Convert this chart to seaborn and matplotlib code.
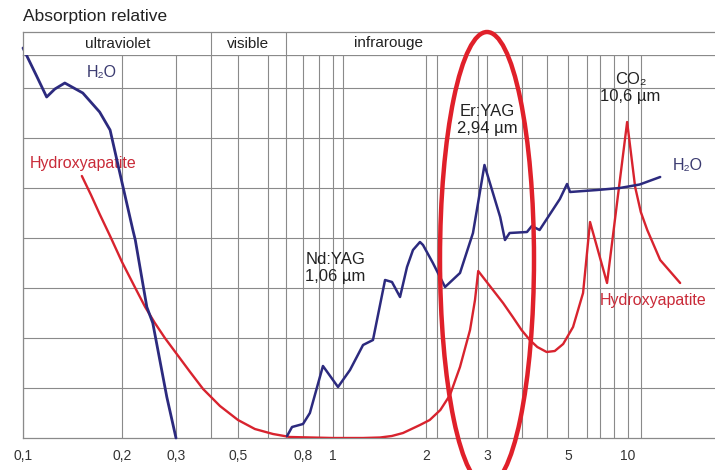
import numpy as np
import pandas as pd
import matplotlib
matplotlib.use("Agg")
import matplotlib.pyplot as plt
from matplotlib.patches import Ellipse
import seaborn as sns

# wavelength (µm) / relative absorption (grid units, 0 = bottom line)
h2o_uv_wl = [0.100, 0.110, 0.118, 0.125, 0.134, 0.152, 0.171, 0.184, 0.197,
             0.217, 0.221, 0.241, 0.252, 0.280, 0.300]
h2o_uv_abs = [7.80, 7.24, 6.82, 6.98, 7.10, 6.90, 6.52, 6.16, 5.30,
              4.16, 3.96, 2.62, 2.30, 0.82, 0.00]

h2o_ir_wl = [0.713, 0.739, 0.800, 0.842, 0.928, 1.038, 1.135, 1.251, 1.347,
             1.474, 1.552, 1.648, 1.736, 1.815, 1.912, 1.956, 2.094, 2.27,
             2.507, 2.733, 2.95, 3.26, 3.36, 3.46, 3.86, 3.98, 4.18, 4.75,
             4.97, 5.12, 7.0, 9.1, 11.0, 13.0]
h2o_ir_abs = [0.04, 0.22, 0.28, 0.50, 1.44, 1.02, 1.36, 1.86, 1.96,
              3.16, 3.12, 2.82, 3.42, 3.76, 3.92, 3.86, 3.50, 3.02,
              3.30, 4.10, 5.46, 4.42, 3.96, 4.10, 4.12, 4.24, 4.16, 4.78,
              5.08, 4.92, 4.96, 5.00, 5.07, 5.22]

hap_wl = [0.151, 0.161, 0.171, 0.184, 0.200, 0.221, 0.238, 0.256, 0.276,
          0.300, 0.337, 0.375, 0.431, 0.500, 0.565, 0.644, 0.728, 1.00,
          1.25, 1.42, 1.55, 1.685, 1.912, 2.05, 2.20, 2.346, 2.507, 2.68,
          2.77, 2.83, 3.115, 3.32, 3.53, 3.73, 3.93, 4.12, 4.37, 4.60, 4.85,
          5.30, 5.95, 6.45, 7.85, 9.9, 10.6, 11.1, 11.7, 13.0, 15.3]
hap_abs = [5.24, 4.86, 4.48, 4.04, 3.52, 3.00, 2.62, 2.30, 2.00,
           1.70, 1.32, 0.98, 0.64, 0.36, 0.18, 0.08, 0.02, 0.00,
           0.00, 0.01, 0.04, 0.10, 0.26, 0.36, 0.56, 0.86, 1.42, 2.16,
           2.76, 3.34, 2.96, 2.70, 2.42, 2.16, 1.96, 1.82, 1.72, 1.74, 1.88,
           2.22, 2.90, 4.32, 3.10, 6.32, 5.02, 4.52, 4.16, 3.56, 3.10]

tick_values = [0.1, 0.2, 0.3, 0.5, 0.8, 1, 2, 3, 5, 10]
tick_labels = ["0,1", "0,2", "0,3", "0,5", "0,8", "1", "2", "3", "5", "10"]
grid_wl = [0.4, 0.62, 0.71, 0.9, 1.08, 2.15, 2.83, 3.73, 4.38, 6.2, 7.2, 8.5, 11.1]
band_names = ["ultraviolet", "visible", "infrarouge"]
band_label_wl = [0.1945, 0.537, 1.507]
band_dividers = [0.4, 0.71]

# the printed axis is only roughly logarithmic: piecewise log scale
scale_log = np.log10([0.01, 0.1, 0.2, 0.3, 0.5, 0.8, 1, 2, 3, 5, 10, 20, 100])
scale_pos = np.array([-306, 23, 122, 176, 238, 303, 333, 426, 487, 568, 628, 713, 910.0])


def fwd(x):
    x = np.clip(np.asarray(x, dtype=float), 1e-4, None)
    return np.interp(np.log10(x), scale_log, scale_pos)


def inv(p):
    return 10 ** np.interp(np.asarray(p, dtype=float), scale_pos, scale_log)


sns.set_style("white")
plt.rcParams["font.family"] = ["Liberation Sans", "DejaVu Sans"]

BLUE = "#2c2a7e"
RED = "#d8232e"
GRID = "#8a8a8a"

fig = plt.figure(figsize=(7.15, 4.70), dpi=100)
left, width = 23 / 715, 692 / 715
ax = fig.add_axes([left, 32 / 470, width, 383 / 470])
head = fig.add_axes([left, 415 / 470, width, 23 / 470], sharex=ax)

ax.set_xscale("function", functions=(fwd, inv))
ax.set_xlim(0.1, float(inv(715)))
ax.set_ylim(0, 7.66)

uv = pd.DataFrame({"wl": h2o_uv_wl, "a": h2o_uv_abs})
ir = pd.DataFrame({"wl": h2o_ir_wl, "a": h2o_ir_abs})
hap = pd.DataFrame({"wl": hap_wl, "a": hap_abs})

sns.lineplot(data=hap, x="wl", y="a", ax=ax, color=RED, lw=1.7, estimator=None, zorder=3)
sns.lineplot(data=uv, x="wl", y="a", ax=ax, color=BLUE, lw=2.0, estimator=None, zorder=4,
             clip_on=False)
sns.lineplot(data=ir, x="wl", y="a", ax=ax, color=BLUE, lw=1.8, estimator=None, zorder=4)

ax.set_xticks(tick_values, tick_labels)
ax.set_xticks(grid_wl, minor=True)
ax.set_yticks(range(1, 8), [""] * 7)
ax.tick_params(which="both", length=0, labelsize=10, colors="#333333", pad=8)
ax.grid(True, which="both", axis="x", color=GRID, lw=0.8)
ax.grid(True, which="major", axis="y", color=GRID, lw=0.8)
ax.set_axisbelow(True)
ax.set_xlabel("")
ax.set_ylabel("")
for side in ["left", "bottom", "top"]:
    ax.spines[side].set_color(GRID)
    ax.spines[side].set_linewidth(0.9)
ax.spines["right"].set_visible(False)

head.set_ylim(0, 1)
head.tick_params(which="both", length=0, labelbottom=False, labelleft=False)
head.grid(False)
head.set_yticks([])
for wl in band_dividers:
    head.axvline(wl, color=GRID, lw=0.8)
for name, wl in zip(band_names, band_label_wl):
    head.text(wl, 0.5, name, ha="center", va="center", fontsize=11, color="#222222")
for side in ["left", "top"]:
    head.spines[side].set_color(GRID)
    head.spines[side].set_linewidth(0.9)
head.spines["right"].set_visible(False)
head.spines["bottom"].set_visible(False)

ax.text(0.174, 7.32, "H₂O", ha="center", va="center", fontsize=11.5, color="#3a3a70")
ax.text(0.105, 5.5, "Hydroxyapatite", ha="left", va="center", fontsize=11.5, color="#c92a38")
ax.text(1.02, 3.4, "Nd:YAG\n1,06 µm", ha="center", va="center", fontsize=12, color="#222222")
ax.text(3.0, 6.36, "Er:YAG\n2,94 µm", ha="center", va="center", fontsize=12, color="#222222")
ax.text(10.2, 7.0, "CO₂\n10,6 µm", ha="center", va="center", fontsize=12, color="#222222")
ax.text(16.3, 5.46, "H₂O", ha="center", va="center", fontsize=11.5, color="#3a3a70")
ax.text(12.26, 2.76, "Hydroxyapatite", ha="center", va="center", fontsize=11.5, color="#c92a38")

fig.text(23 / 715, 453 / 470, "Absorption relative", ha="left", va="center",
         fontsize=12.5, color="#222222")

ring = Ellipse((487 / 715, 211 / 470), 94 / 715, 454 / 470, transform=fig.transFigure,
               fill=False, edgecolor="#e0202a", lw=3.2, zorder=10)
fig.add_artist(ring)

fig.savefig("out.png", dpi=100)
